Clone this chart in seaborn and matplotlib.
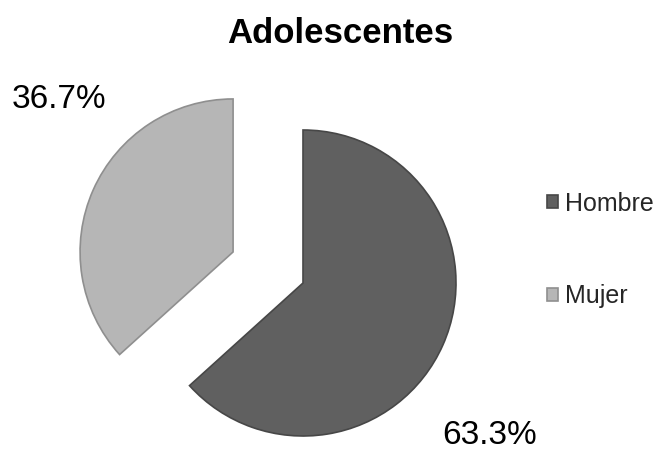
import matplotlib
matplotlib.use("Agg")
import matplotlib.pyplot as plt
import seaborn as sns

# datos del grafico
categorias = ["Hombre", "Mujer"]
valores = [63.3, 36.7]
etiquetas = ["63.3%", "36.7%"]
colores = ["#606060", "#b6b6b6"]
bordes = ["#474747", "#8f8f8f"]
titulo = "Adolescentes"

sns.set_theme(style="white")
plt.rcParams["font.family"] = ["Liberation Sans", "DejaVu Sans"]

fig = plt.figure(figsize=(6.6, 4.5), dpi=100)
ax = fig.add_axes([0, 0, 1, 1])

wedges, _ = ax.pie(
    valores,
    colors=colores,
    startangle=90,
    counterclock=False,
    explode=[0, 0.5],
    radius=1,
    wedgeprops=dict(linewidth=1.2),
)
for w, ec in zip(wedges, bordes):
    w.set_edgecolor(ec)

# limites en unidades del radio (centro del pie en px 303,283; r=153)
r_px = 153.0
ax.set_xlim(-303 / r_px, (660 - 303) / r_px)
ax.set_ylim(-(450 - 283) / r_px, 283 / r_px)
ax.set_aspect("equal")
ax.axis("off")

# titulo y porcentajes
fig.text(0.515, 0.925, titulo, ha="center", va="center",
         fontsize=25, fontweight="bold", color="black")
fig.text(59 / 660, 1 - 100 / 450, etiquetas[1], ha="center", va="center",
         fontsize=24, color="black")
fig.text(490 / 660, 1 - 436 / 450, etiquetas[0], ha="center", va="center",
         fontsize=24, color="black")

leg = ax.legend(
    wedges, categorias,
    loc="center left",
    bbox_to_anchor=(534 / 660, 1 - 250 / 450),
    bbox_transform=fig.transFigure,
    frameon=False,
    fontsize=18,
    handlelength=0.45,
    handleheight=0.45,
    handletextpad=0.3,
    labelspacing=2.75,
    borderpad=0,
)

fig.savefig("out.png", dpi=100, facecolor="white")
